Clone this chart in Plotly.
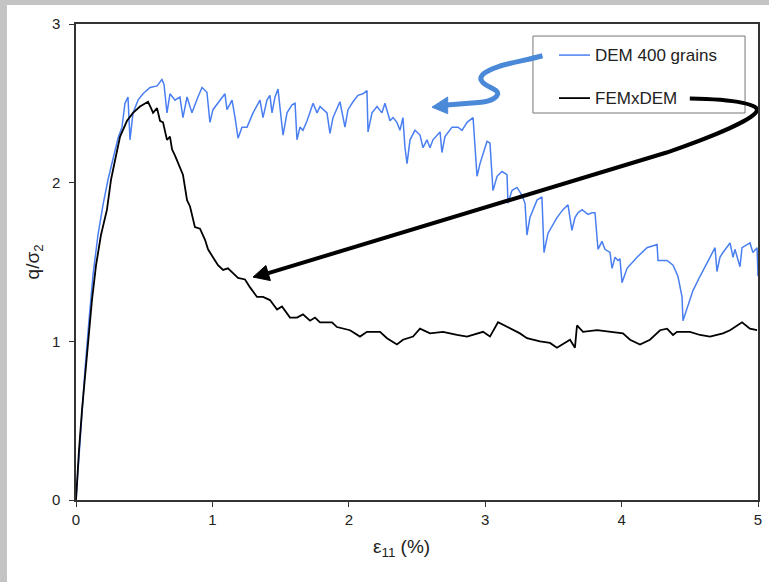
import plotly.graph_objects as go

# ---- data ----
dem_strain = [0, 0.015, 0.037, 0.066, 0.095, 0.125, 0.161, 0.198, 0.235, 0.271, 0.308, 0.337, 0.359, 0.381,
              0.396, 0.418, 0.455, 0.491, 0.543, 0.594, 0.630, 0.645, 0.667, 0.689, 0.726, 0.762, 0.784, 0.814,
              0.850, 0.894, 0.924, 0.960, 0.982, 1.004, 1.041, 1.092, 1.107, 1.144, 1.166, 1.188, 1.217, 1.254,
              1.298, 1.349, 1.371, 1.400, 1.422, 1.437, 1.459, 1.481, 1.510, 1.518, 1.547, 1.584, 1.606, 1.620,
              1.642, 1.664, 1.694, 1.738, 1.767, 1.789, 1.840, 1.862, 1.884, 1.935, 1.972, 1.994, 2.031, 2.067,
              2.104, 2.133, 2.141, 2.170, 2.207, 2.243, 2.265, 2.302, 2.324, 2.353, 2.375, 2.397, 2.412, 2.427,
              2.449, 2.485, 2.522, 2.544, 2.573, 2.595, 2.617, 2.669, 2.683, 2.705, 2.757, 2.801, 2.830, 2.867,
              2.911, 2.940, 2.962, 3.013, 3.035, 3.057, 3.087, 3.123, 3.160, 3.167, 3.196, 3.233, 3.270, 3.292,
              3.306, 3.328, 3.380, 3.416, 3.431, 3.460, 3.526, 3.570, 3.607, 3.636, 3.658, 3.680, 3.710, 3.754,
              3.783, 3.805, 3.827, 3.856, 3.878, 3.915, 3.930, 3.952, 3.974, 3.988, 4.003, 4.040, 4.113, 4.186,
              4.260, 4.267, 4.333, 4.377, 4.413, 4.443, 4.450, 4.479, 4.523, 4.575, 4.626, 4.685, 4.699, 4.721,
              4.743, 4.795, 4.817, 4.831, 4.868, 4.883, 4.941, 4.963, 4.993, 5.0]
dem_q = [0, 0.19, 0.50, 0.82, 1.13, 1.42, 1.67, 1.86, 2.02, 2.15, 2.28, 2.35, 2.50, 2.54,
         2.27, 2.44, 2.52, 2.56, 2.60, 2.61, 2.65, 2.62, 2.44, 2.56, 2.52, 2.54, 2.41, 2.54,
         2.44, 2.54, 2.60, 2.57, 2.38, 2.46, 2.50, 2.56, 2.46, 2.52, 2.41, 2.28, 2.35, 2.35,
         2.44, 2.52, 2.41, 2.52, 2.55, 2.44, 2.54, 2.59, 2.36, 2.30, 2.44, 2.49, 2.50, 2.27,
         2.35, 2.33, 2.39, 2.50, 2.44, 2.48, 2.44, 2.31, 2.41, 2.51, 2.35, 2.46, 2.51, 2.55,
         2.56, 2.58, 2.32, 2.44, 2.48, 2.44, 2.50, 2.39, 2.41, 2.38, 2.33, 2.41, 2.22, 2.12,
         2.27, 2.33, 2.30, 2.22, 2.27, 2.22, 2.27, 2.32, 2.19, 2.29, 2.35, 2.35, 2.33, 2.38,
         2.41, 2.04, 2.12, 2.26, 2.25, 1.95, 2.04, 2.07, 2.05, 1.87, 1.95, 1.97, 1.92, 1.87,
         1.67, 1.78, 1.89, 1.91, 1.56, 1.68, 1.78, 1.83, 1.86, 1.70, 1.78, 1.81, 1.83, 1.80,
         1.81, 1.81, 1.58, 1.63, 1.58, 1.56, 1.46, 1.53, 1.51, 1.52, 1.37, 1.46, 1.53, 1.59,
         1.61, 1.51, 1.51, 1.48, 1.41, 1.28, 1.13, 1.20, 1.32, 1.41, 1.49, 1.59, 1.44, 1.53,
         1.56, 1.62, 1.53, 1.58, 1.47, 1.59, 1.62, 1.56, 1.59, 1.41]

fem_strain = [0, 0.007, 0.022, 0.044, 0.066, 0.088, 0.117, 0.147, 0.183, 0.227, 0.257, 0.286, 0.323, 0.374,
              0.418, 0.469, 0.506, 0.528, 0.550, 0.565, 0.594, 0.616, 0.638, 0.667, 0.689, 0.704, 0.726, 0.748,
              0.784, 0.814, 0.836, 0.872, 0.909, 0.946, 0.968, 1.004, 1.041, 1.078, 1.114, 1.151, 1.188, 1.239,
              1.276, 1.327, 1.371, 1.422, 1.474, 1.510, 1.547, 1.569, 1.620, 1.664, 1.716, 1.752, 1.789, 1.826,
              1.877, 1.913, 2.009, 2.082, 2.133, 2.229, 2.280, 2.353, 2.397, 2.471, 2.522, 2.595, 2.691, 2.793,
              2.867, 2.984, 3.035, 3.094, 3.182, 3.255, 3.306, 3.402, 3.475, 3.526, 3.622, 3.658, 3.673, 3.717,
              3.820, 3.915, 4.010, 4.062, 4.135, 4.208, 4.282, 4.333, 4.377, 4.406, 4.501, 4.575, 4.648, 4.743,
              4.795, 4.883, 4.941, 4.993]
fem_q = [0, 0.107, 0.315, 0.567, 0.788, 0.996, 1.26, 1.48, 1.67, 1.83, 2.02, 2.14, 2.29, 2.39,
         2.44, 2.48, 2.50, 2.51, 2.47, 2.44, 2.47, 2.39, 2.38, 2.27, 2.29, 2.21, 2.17, 2.12,
         2.05, 1.89, 1.85, 1.72, 1.71, 1.64, 1.58, 1.53, 1.48, 1.45, 1.46, 1.43, 1.40, 1.39,
         1.34, 1.28, 1.28, 1.26, 1.20, 1.22, 1.18, 1.15, 1.15, 1.17, 1.13, 1.15, 1.12, 1.12,
         1.12, 1.09, 1.07, 1.03, 1.06, 1.06, 1.02, 0.98, 1.01, 1.03, 1.08, 1.05, 1.06, 1.04,
         1.03, 1.06, 1.03, 1.12, 1.08, 1.05, 1.02, 1.00, 0.99, 0.96, 1.01, 0.96, 1.10, 1.06,
         1.07, 1.06, 1.05, 1.01, 0.98, 1.01, 1.07, 1.08, 1.04, 1.06, 1.06, 1.04, 1.03, 1.05,
         1.07, 1.12, 1.08, 1.07]

series_names = ["DEM 400 grains", "FEMxDEM"]
x_ticks = [0, 1, 2, 3, 4, 5]
y_ticks = [0, 1, 2, 3]

BLUE = "#4a7ff2"
ARROW_BLUE = "#4a88d8"
FONT = "Liberation Sans, Arial, sans-serif"
TXT = "#222222"

fig = go.Figure()
fig.add_trace(go.Scatter(x=dem_strain, y=dem_q, mode="lines", name=series_names[0],
                         line=dict(color=BLUE, width=1.5), showlegend=False))
fig.add_trace(go.Scatter(x=fem_strain, y=fem_q, mode="lines", name=series_names[1],
                         line=dict(color="black", width=1.8), showlegend=False))

shapes = [
    # page background: gray outer band, white inner panel
    dict(type="rect", xref="paper", yref="paper", x0=-0.1012, x1=1.02, y0=-0.18, y1=1.040,
         fillcolor="white", line=dict(width=0), layer="below"),
    # legend box
    dict(type="rect", xref="x", yref="y", x0=3.35, x1=4.905, y0=2.439, y1=2.924,
         line=dict(color="#777777", width=1), fillcolor="white"),
    dict(type="line", xref="x", yref="y", x0=3.541, x1=3.768, y0=2.804, y1=2.804,
         line=dict(color=BLUE, width=1.5)),
    dict(type="line", xref="x", yref="y", x0=3.541, x1=3.768, y0=2.533, y1=2.533,
         line=dict(color="black", width=1.8)),
    # blue curved arrow
    dict(type="path", xref="x", yref="y",
         path="M 3.42,2.80 C 3.25,2.76 3.05,2.74 2.98,2.68 C 2.93,2.63 3.05,2.60 3.08,2.58 "
              "C 3.12,2.55 3.05,2.51 2.95,2.505 L 2.72,2.49",
         line=dict(color=ARROW_BLUE, width=5)),
    dict(type="path", xref="x", yref="y", path="M 2.61,2.476 L 2.725,2.54 L 2.725,2.435 Z",
         fillcolor=ARROW_BLUE, line=dict(color=ARROW_BLUE, width=1)),
    # black curved arrow
    dict(type="path", xref="x", yref="y",
         path="M 4.50,2.53 C 4.85,2.525 5.02,2.49 4.99,2.45 C 4.96,2.40 4.70,2.30 4.33,2.19 L 1.41,1.43",
         line=dict(color="black", width=4)),
    dict(type="path", xref="x", yref="y", path="M 1.298,1.405 L 1.425,1.383 L 1.392,1.478 Z",
         fillcolor="black", line=dict(color="black", width=1)),
]

annotations = [
    dict(x=3.79, y=2.804, xref="x", yref="y", text=series_names[0], showarrow=False,
         xanchor="left", yanchor="middle", font=dict(family=FONT, size=17, color=TXT)),
    dict(x=3.79, y=2.533, xref="x", yref="y", text=series_names[1], showarrow=False,
         xanchor="left", yanchor="middle", font=dict(family=FONT, size=17, color=TXT)),
    # axis titles
    dict(x=-0.061, y=0.5, xref="paper", yref="paper", text="q/σ<sub>2</sub>", showarrow=False,
         textangle=-90, xanchor="center", yanchor="middle", font=dict(family=FONT, size=19, color=TXT)),
    dict(x=0.478, y=-0.101, xref="paper", yref="paper", text="ε<sub>11</sub> (%)", showarrow=False,
         xanchor="center", yanchor="middle", font=dict(family=FONT, size=19, color=TXT)),
]

axis_common = dict(showgrid=False, zeroline=False, showline=True, linecolor="#333333", linewidth=1.5,
                   mirror=True, ticks="outside", ticklen=5, tickcolor="#333333", tickwidth=1,
                   automargin=False, tickfont=dict(family=FONT, size=15, color=TXT))

fig.update_layout(
    width=769, height=582,
    margin=dict(l=76, r=11, t=24, b=82),
    paper_bgcolor="#c4c4c4", plot_bgcolor="white",
    shapes=shapes, annotations=annotations,
    xaxis=dict(range=[0, 5], tickvals=x_ticks, **axis_common),
    yaxis=dict(range=[0, 3], tickvals=y_ticks, ticklabelstandoff=6, **axis_common),
)

fig.write_html("out.html", config={"displayModeBar": False},
               post_script="document.body.style.margin='0px';document.body.style.overflow='hidden';")
